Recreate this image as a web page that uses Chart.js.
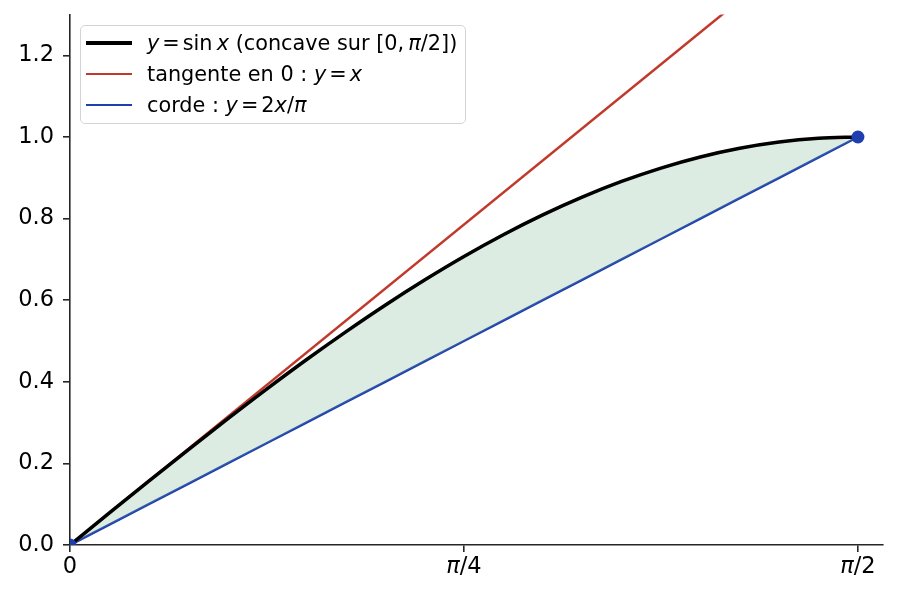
<!DOCTYPE html>
<html>
<head>
<meta charset="utf-8">
<script src="https://cdn.jsdelivr.net/npm/chart.js@4.4.1/dist/chart.umd.min.js"></script>
<style>
  html, body { margin: 0; padding: 0; background: #fff; }
  #wrap { position: relative; width: 898px; height: 600px; }
  #legend {
    position: absolute; left: 80px; top: 25px; width: 386px; height: 99px;
    border: 1.3px solid #d4d4d4; border-radius: 5px; background: rgba(255,255,255,0.8);
    font-family: "DejaVu Sans", sans-serif; font-size: 20.8px; color: #000;
    box-sizing: border-box; padding-top: 1px;
  }
  .row { height: 31px; display: flex; align-items: center; white-space: nowrap; }
  .swatch { width: 46px; margin-left: 5px; margin-right: 15px; }
  .row i { font-style: italic; }
  .eq { margin: 0 3px; }
</style>
</head>
<body>
<div id="wrap">
  <canvas id="c" width="898" height="600"></canvas>
  <div id="legend">
    <div class="row"><div class="swatch" style="border-top:4px solid #000"></div><span><i>y</i><span class="eq">=</span>sin&#8201;<i>x</i> (concave sur [0,&#8201;<i>π</i>/2])</span></div>
    <div class="row"><div class="swatch" style="border-top:2.5px solid #c0392b"></div><span>tangente en 0 : <i>y</i><span class="eq">=</span><i>x</i></span></div>
    <div class="row"><div class="swatch" style="border-top:2.5px solid #1f3fb0"></div><span>corde : <i>y</i><span class="eq">=</span>2<i>x</i>/<i>π</i></span></div>
  </div>
</div>
<script>
// Courbe sin x, tangente en 0 et corde sur [0, pi/2]

const xs = [0, 0.0785, 0.1571, 0.2356, 0.3142, 0.3927, 0.4712, 0.5498, 0.6283, 0.7069, 0.7854,
            0.8639, 0.9425, 1.0210, 1.0996, 1.1781, 1.2566, 1.3352, 1.4137, 1.4923, 1.5708];
const sinValues = [0, 0.0785, 0.1564, 0.2334, 0.3090, 0.3827, 0.4540, 0.5225, 0.5878, 0.6494, 0.7071,
                   0.7604, 0.8090, 0.8526, 0.8910, 0.9239, 0.9511, 0.9724, 0.9877, 0.9969, 1.0];
const chordValues = [0, 0.05, 0.10, 0.15, 0.20, 0.25, 0.30, 0.35, 0.40, 0.45, 0.50,
                     0.55, 0.60, 0.65, 0.70, 0.75, 0.80, 0.85, 0.90, 0.95, 1.0];
const tangentX = [0, 1.62];
const tangentY = [0, 1.62];
const endPointsX = [0, 1.5708];
const endPointsY = [0, 1.0];

const xTickValues = [0, 0.7854, 1.5708];
const xTickLabels = ['0', 'π/4', 'π/2'];
const yTickValues = [0, 0.2, 0.4, 0.6, 0.8, 1.0, 1.2];

const zip = (a, b) => a.map((v, i) => ({ x: v, y: b[i] }));

const axisColor = '#262626';
const fontSize = 22.5;
const tickFont = { family: 'DejaVu Sans', size: fontSize };

// labels de l'axe x avec pi en italique (comme mathtext)
const mathTicks = {
  id: 'mathTicks',
  afterDraw(chart) {
    const ctx = chart.ctx;
    const sx = chart.scales.x;
    const y0 = sx.top + 7 + 4;
    ctx.save();
    ctx.fillStyle = '#000';
    ctx.textBaseline = 'top';
    xTickValues.forEach((v, i) => {
      const parts = xTickLabels[i].split('').map(ch => ({
        ch, font: (ch === 'π' ? 'italic ' : '') + fontSize + 'px "DejaVu Sans"'
      }));
      let w = 0;
      parts.forEach(p => { ctx.font = p.font; p.w = ctx.measureText(p.ch).width; w += p.w; });
      let x = sx.getPixelForValue(v) - w / 2;
      parts.forEach(p => { ctx.font = p.font; ctx.fillText(p.ch, x, y0); x += p.w; });
    });
    ctx.restore();
  }
};

new Chart(document.getElementById('c'), {
  type: 'line',
  data: {
    datasets: [
      {
        label: 'sin',
        data: zip(xs, sinValues),
        borderColor: '#000',
        borderWidth: 3.5,
        pointRadius: 0,
        cubicInterpolationMode: 'monotone',
        fill: { target: 2, above: 'rgba(120,180,140,0.25)', below: 'rgba(120,180,140,0.25)' },
        order: 1
      },
      {
        label: 'tangente',
        data: zip(tangentX, tangentY),
        borderColor: '#c0392b',
        borderWidth: 2.5,
        pointRadius: 0,
        fill: false,
        order: 3
      },
      {
        label: 'corde',
        data: zip(xs, chordValues),
        borderColor: '#1f3fb0',
        borderWidth: 2.5,
        pointRadius: 0,
        fill: false,
        order: 2
      },
      {
        label: 'points',
        data: zip(endPointsX, endPointsY),
        showLine: false,
        pointRadius: 6.5,
        pointBackgroundColor: '#1f3fb0',
        pointBorderColor: '#1f3fb0',
        pointBorderWidth: 0,
        order: 0
      }
    ]
  },
  options: {
    responsive: false,
    animation: false,
    layout: { padding: { top: 14.6, right: 15, left: 0, bottom: 0 } },
    plugins: { legend: { display: false }, tooltip: { enabled: false } },
    scales: {
      x: {
        type: 'linear',
        min: 0,
        max: 1.6208,
        afterBuildTicks: s => { s.ticks = xTickValues.map(v => ({ value: v })); },
        afterFit: s => { s.height = 55; s.paddingLeft = 0; s.paddingRight = 0; },
        ticks: { display: false },
        grid: { drawOnChartArea: false, drawTicks: true, tickLength: 7, tickColor: axisColor, lineWidth: 1.6 },
        border: { display: true, color: axisColor, width: 1.6 }
      },
      y: {
        type: 'linear',
        min: 0,
        max: 1.3,
        afterBuildTicks: s => { s.ticks = yTickValues.map(v => ({ value: v })); },
        afterFit: s => { s.width = 70; s.paddingTop = 0; s.paddingBottom = 0; },
        ticks: {
          color: '#000',
          font: tickFont,
          padding: 9,
          callback: v => v.toFixed(1)
        },
        grid: { drawOnChartArea: false, drawTicks: true, tickLength: 7, tickColor: axisColor, lineWidth: 1.6 },
        border: { display: true, color: axisColor, width: 1.6 }
      }
    }
  },
  plugins: [mathTicks]
});
</script>
</body>
</html>
